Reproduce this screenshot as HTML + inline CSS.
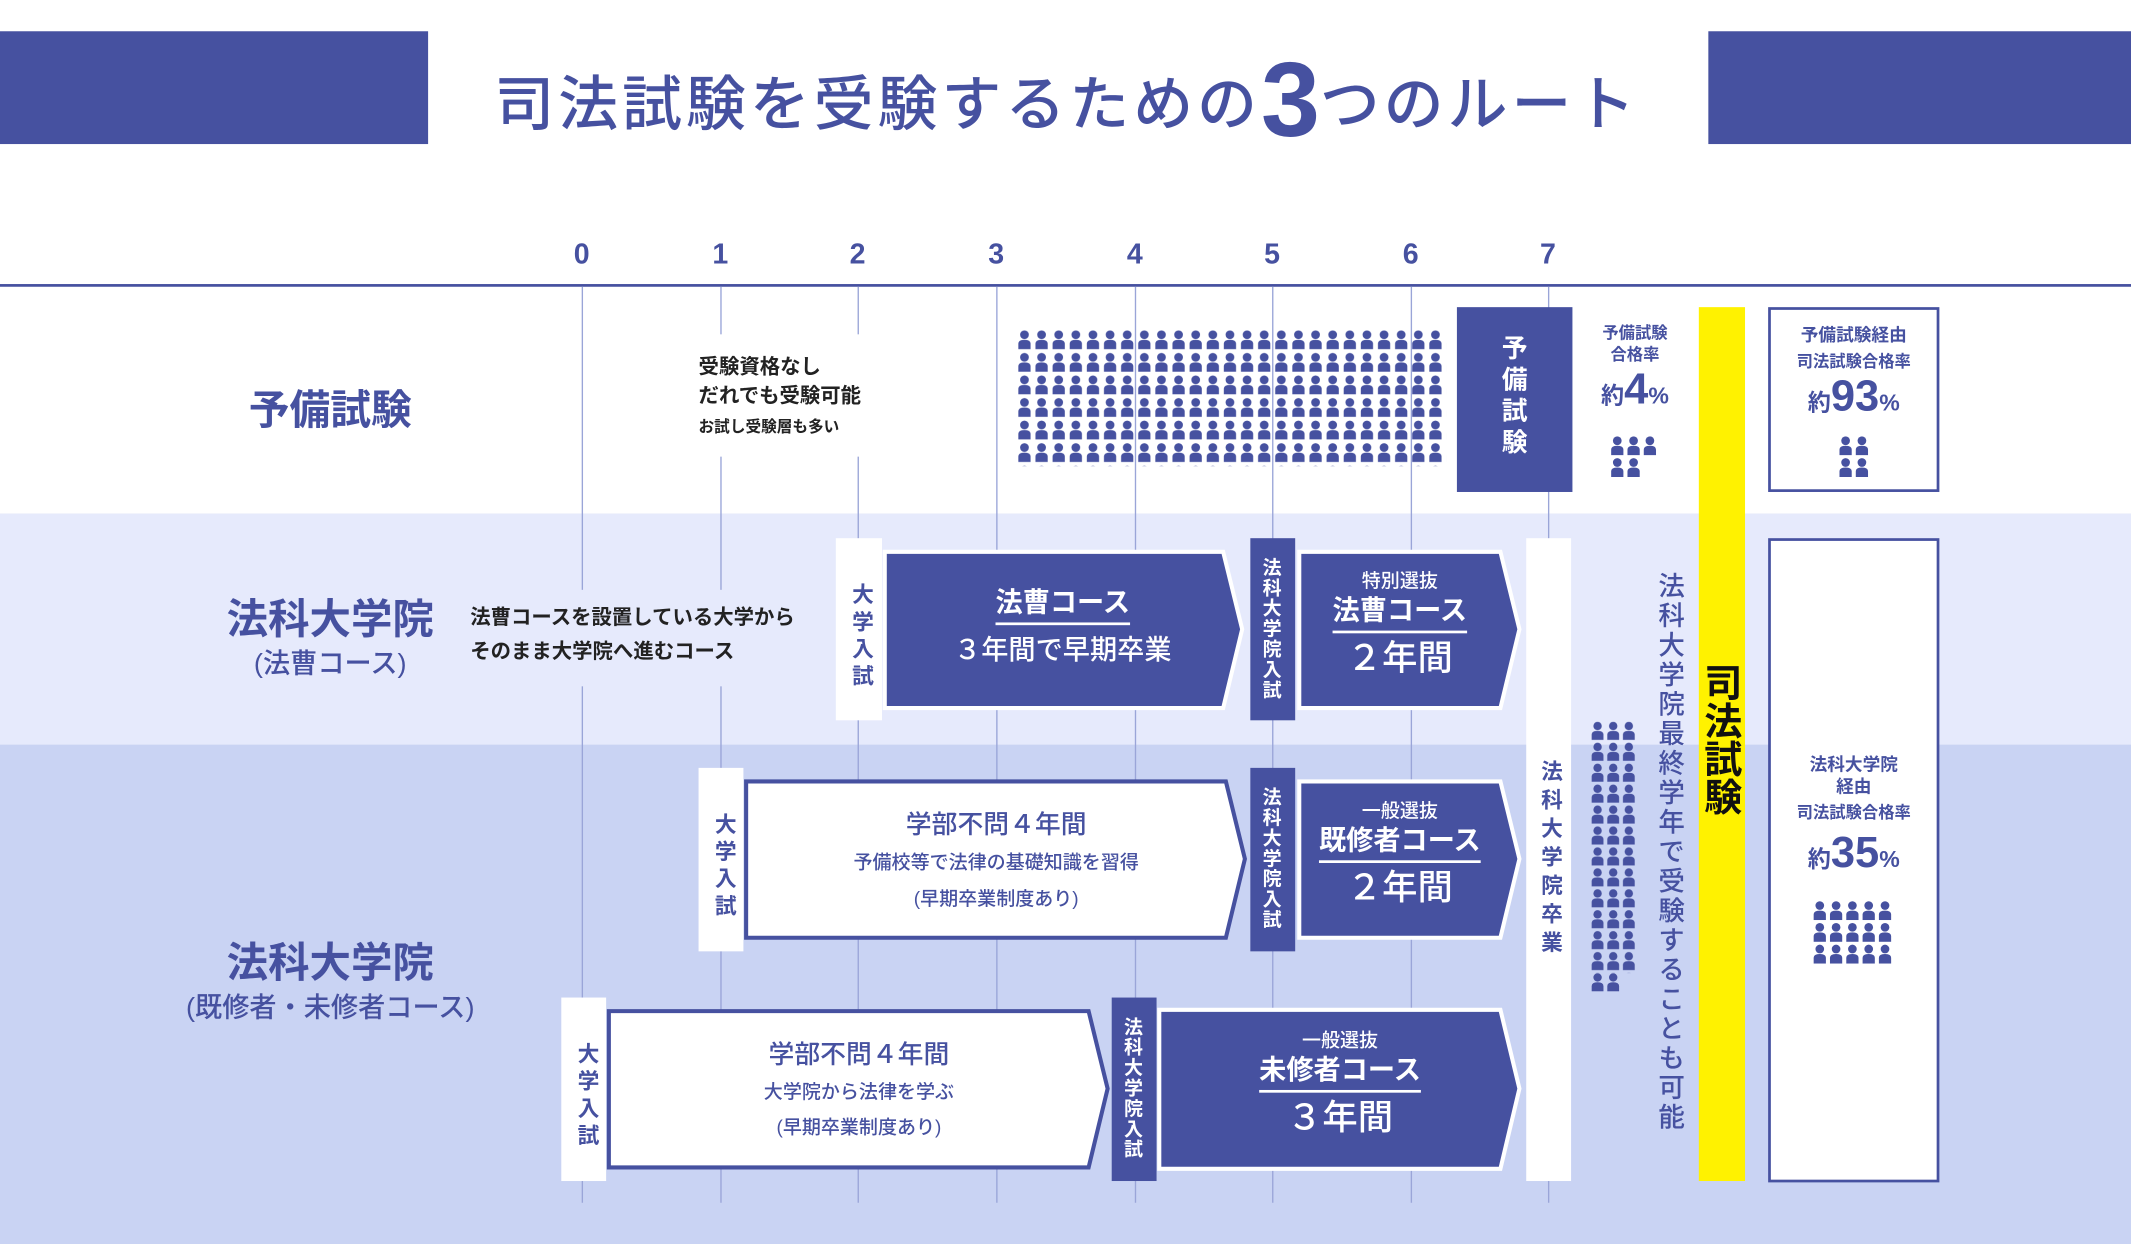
<!DOCTYPE html>
<html><head><meta charset="utf-8">
<style>
html,body{margin:0;padding:0;width:2131px;height:1244px;overflow:hidden;background:#c9d3f3;}
#w{position:absolute;left:0;top:0;width:1568px;height:915px;transform:scale(1.35906);transform-origin:0 0;font-family:"Liberation Sans","Noto Sans CJK JP",sans-serif;font-weight:bold;}
.t{position:absolute;white-space:nowrap;line-height:1;}
.c{transform:translateX(-50%);text-align:center;}
.v{writing-mode:vertical-rl;text-orientation:upright;line-height:1;}
.b{color:#4651a0}.w{color:#fff}.k{color:#222}
.u{border-bottom:2px solid #fff;padding-bottom:4px;}
</style></head><body><div id="w">
<svg width="1568" height="915" style="position:absolute;left:0;top:0">
<defs>
<symbol id="p" viewBox="0 0 10 14"><circle cx="5" cy="3.3" r="3.2" fill="#4651a0"/><path d="M0.5 14 V10 Q0.5 7 5 7 Q9.5 7 9.5 10 V14 Z" fill="#4651a0"/></symbol>
<pattern id="pg" x="748" y="243" width="12.6" height="16.6" patternUnits="userSpaceOnUse"><use href="#p" x="0.8" y="0" width="10" height="14"/></pattern>
<pattern id="pg2" x="1170" y="531" width="11.5" height="15.4" patternUnits="userSpaceOnUse"><use href="#p" x="0.5" y="0" width="10" height="13.5"/></pattern>
</defs>
<rect x="0" y="0" width="1568" height="378" fill="#fff"/>
<rect x="0" y="378" width="1568" height="170" fill="#e6eafc"/>
<rect x="0" y="548" width="1568" height="367" fill="#c9d3f3"/>
<rect x="0" y="23" width="315" height="83" fill="#4651a0"/>
<rect x="1257" y="23" width="311" height="83" fill="#4651a0"/>
<rect x="0" y="209" width="1568" height="2" fill="#4651a0"/>
<g stroke="#9aa5d8" stroke-width="1">
<line x1="428.5" y1="211" x2="428.5" y2="885"/><line x1="530.5" y1="211" x2="530.5" y2="885"/>
<line x1="631.5" y1="211" x2="631.5" y2="885"/><line x1="733.5" y1="211" x2="733.5" y2="885"/>
<line x1="835.5" y1="211" x2="835.5" y2="885"/><line x1="936.5" y1="211" x2="936.5" y2="885"/>
<line x1="1038.5" y1="211" x2="1038.5" y2="885"/><line x1="1139.5" y1="211" x2="1139.5" y2="885"/>
</g>
<rect x="505" y="246" width="150" height="90" fill="#fff"/>
<rect x="338" y="434" width="266" height="71" fill="#e6eafc"/>
<rect x="748" y="243" width="316" height="100" fill="url(#pg)"/>
<rect x="1072" y="226" width="85" height="136" fill="#4651a0"/>
<rect x="1250" y="226" width="34" height="643" fill="#fff200"/>
<rect x="1302" y="227" width="124" height="134" fill="#fff" stroke="#4651a0" stroke-width="2"/>
<rect x="1302" y="397" width="124" height="472" fill="#fff" stroke="#4651a0" stroke-width="2"/>
<g>
<use href="#p" x="1185" y="321" width="10" height="14"/><use href="#p" x="1197" y="321" width="10" height="14"/><use href="#p" x="1209" y="321" width="10" height="14"/>
<use href="#p" x="1185" y="337" width="10" height="14"/><use href="#p" x="1197" y="337" width="10" height="14"/>
<use href="#p" x="1353" y="321" width="10" height="14"/><use href="#p" x="1365" y="321" width="10" height="14"/>
<use href="#p" x="1353" y="337" width="10" height="14"/><use href="#p" x="1365" y="337" width="10" height="14"/>
</g>
<g>
<use href="#p" x="1334" y="663" width="10" height="14"/><use href="#p" x="1346" y="663" width="10" height="14"/><use href="#p" x="1358" y="663" width="10" height="14"/><use href="#p" x="1370" y="663" width="10" height="14"/><use href="#p" x="1382" y="663" width="10" height="14"/>
<use href="#p" x="1334" y="679" width="10" height="14"/><use href="#p" x="1346" y="679" width="10" height="14"/><use href="#p" x="1358" y="679" width="10" height="14"/><use href="#p" x="1370" y="679" width="10" height="14"/><use href="#p" x="1382" y="679" width="10" height="14"/>
<use href="#p" x="1334" y="695" width="10" height="14"/><use href="#p" x="1346" y="695" width="10" height="14"/><use href="#p" x="1358" y="695" width="10" height="14"/><use href="#p" x="1370" y="695" width="10" height="14"/><use href="#p" x="1382" y="695" width="10" height="14"/>
</g>
<rect x="1170" y="531" width="35" height="185" fill="url(#pg2)"/>
<use href="#p" x="1170.5" y="716" width="10" height="13.5"/><use href="#p" x="1182" y="716" width="10" height="13.5"/>
<rect x="615" y="396" width="34" height="134" fill="#fff"/>
<rect x="920" y="396" width="33" height="134" fill="#4651a0"/>
<rect x="1123" y="396" width="33" height="473" fill="#fff"/>
<rect x="514" y="565" width="33" height="135" fill="#fff"/>
<rect x="920" y="565" width="33" height="135" fill="#4651a0"/>
<rect x="413" y="734" width="33" height="135" fill="#fff"/>
<rect x="818" y="734" width="33" height="135" fill="#4651a0"/>
<g stroke="#fff" stroke-width="3" fill="#4651a0">
<polygon points="651,406 900,406 914,463 900,521 651,521"/>
<polygon points="956,406 1104,406 1118,463 1104,521 956,521"/>
<polygon points="956,575 1104,575 1118,632 1104,690 956,690"/>
<polygon points="853,743 1104,743 1118,801 1104,860 853,860"/>
</g>
<g stroke="#4651a0" stroke-width="3" fill="#fff">
<polygon points="549,575 902,575 916,632 902,690 549,690"/>
<polygon points="448,744 801,744 815,801 801,859 448,859"/>
</g>
</svg>

<div class="t c b" style="left:785px;top:34px;font-size:44px;letter-spacing:3px;font-weight:500">司法試験を受験するための<span style="font-size:78px;font-weight:bold;vertical-align:-8px;letter-spacing:0">3</span>つのルート</div>

<div class="t c b" style="left:428px;top:177px;font-size:21px">0</div>
<div class="t c b" style="left:530px;top:177px;font-size:21px">1</div>
<div class="t c b" style="left:631px;top:177px;font-size:21px">2</div>
<div class="t c b" style="left:733px;top:177px;font-size:21px">3</div>
<div class="t c b" style="left:835px;top:177px;font-size:21px">4</div>
<div class="t c b" style="left:936px;top:177px;font-size:21px">5</div>
<div class="t c b" style="left:1038px;top:177px;font-size:21px">6</div>
<div class="t c b" style="left:1139px;top:177px;font-size:21px">7</div>

<div class="t c b" style="left:243px;top:288px;font-size:30px">予備試験</div>
<div class="t c b" style="left:243px;top:441px;font-size:30.5px">法科大学院</div>
<div class="t c b" style="left:243px;top:479px;font-size:20px;font-weight:500">(法曹コース)</div>
<div class="t c b" style="left:243px;top:694px;font-size:30.5px">法科大学院</div>
<div class="t c b" style="left:243px;top:732px;font-size:20px;font-weight:500">(既修者・未修者コース)</div>

<div class="t k" style="left:514px;top:263px;font-size:15px">受験資格なし</div>
<div class="t k" style="left:514px;top:284px;font-size:15px">だれでも受験可能</div>
<div class="t k" style="left:514px;top:310px;font-size:11.5px">お試し受験層も多い</div>

<div class="t k" style="left:346px;top:447px;font-size:15px">法曹コースを設置している大学から</div>
<div class="t k" style="left:346px;top:472px;font-size:15px">そのまま大学院へ進むコース</div>

<div class="t v w" style="left:1103px;top:246px;font-size:19px;letter-spacing:4px">予備試験</div>

<div class="t c b" style="left:1203px;top:237px;font-size:12px;line-height:16px">予備試験<br>合格率</div>
<div class="t c b" style="left:1203px;top:270px;font-size:17px">約<span style="font-size:32px">4</span>%</div>

<div class="t c b" style="left:1364px;top:237px;font-size:13px;line-height:19px">予備試験経由<br><span style="font-size:12px">司法試験合格率</span></div>
<div class="t c b" style="left:1364px;top:275px;font-size:17px">約<span style="font-size:32px">93</span>%</div>

<div class="t c b" style="left:1364px;top:555px;font-size:13px;line-height:16px">法科大学院<br>経由<br><span style="font-size:12px;line-height:22px">司法試験合格率</span></div>
<div class="t c b" style="left:1364px;top:611px;font-size:17px">約<span style="font-size:32px">35</span>%</div>

<div class="t v k" style="left:1252px;top:488px;font-size:28px;color:#111">司法試験</div>
<div class="t v b" style="left:1217px;top:421px;font-size:19.5px;font-weight:500;letter-spacing:2.2px">法科大学院最終学年で受験することも可能</div>
<div class="t v b" style="left:1131px;top:559px;font-size:16px;letter-spacing:5px">法科大学院卒業</div>

<div class="t v b" style="left:624px;top:429px;font-size:16px;letter-spacing:4px">大学入試</div>
<div class="t v b" style="left:523px;top:598px;font-size:16px;letter-spacing:4px">大学入試</div>
<div class="t v b" style="left:422px;top:767px;font-size:16px;letter-spacing:4px">大学入試</div>
<div class="t v w" style="left:929px;top:410px;font-size:14px;letter-spacing:1px">法科大学院入試</div>
<div class="t v w" style="left:929px;top:579px;font-size:14px;letter-spacing:1px">法科大学院入試</div>
<div class="t v w" style="left:827px;top:748px;font-size:14px;letter-spacing:1px">法科大学院入試</div>

<div class="t c w u" style="left:782px;top:434px;font-size:20px">法曹コース</div>
<div class="t c w" style="left:782px;top:469px;font-size:20px;font-weight:500">３年間で早期卒業</div>

<div class="t c w" style="left:1030px;top:420px;font-size:14px;font-weight:500">特別選抜</div>
<div class="t c w u" style="left:1030px;top:440px;font-size:20px">法曹コース</div>
<div class="t c w" style="left:1030px;top:471px;font-size:26px;font-weight:500">２年間</div>

<div class="t c b" style="left:733px;top:598px;font-size:19px;font-weight:500">学部不問４年間</div>
<div class="t c b" style="left:733px;top:627px;font-size:14px;font-weight:500">予備校等で法律の基礎知識を習得</div>
<div class="t c b" style="left:733px;top:654px;font-size:14px;font-weight:500">(早期卒業制度あり)</div>

<div class="t c w" style="left:1030px;top:589px;font-size:14px;font-weight:500">一般選抜</div>
<div class="t c w u" style="left:1030px;top:609px;font-size:20px">既修者コース</div>
<div class="t c w" style="left:1030px;top:640px;font-size:26px;font-weight:500">２年間</div>

<div class="t c b" style="left:632px;top:767px;font-size:19px;font-weight:500">学部不問４年間</div>
<div class="t c b" style="left:632px;top:796px;font-size:14px;font-weight:500">大学院から法律を学ぶ</div>
<div class="t c b" style="left:632px;top:822px;font-size:14px;font-weight:500">(早期卒業制度あり)</div>

<div class="t c w" style="left:986px;top:758px;font-size:14px;font-weight:500">一般選抜</div>
<div class="t c w u" style="left:986px;top:778px;font-size:20px">未修者コース</div>
<div class="t c w" style="left:986px;top:809px;font-size:26px;font-weight:500">３年間</div>
</div></body></html>
